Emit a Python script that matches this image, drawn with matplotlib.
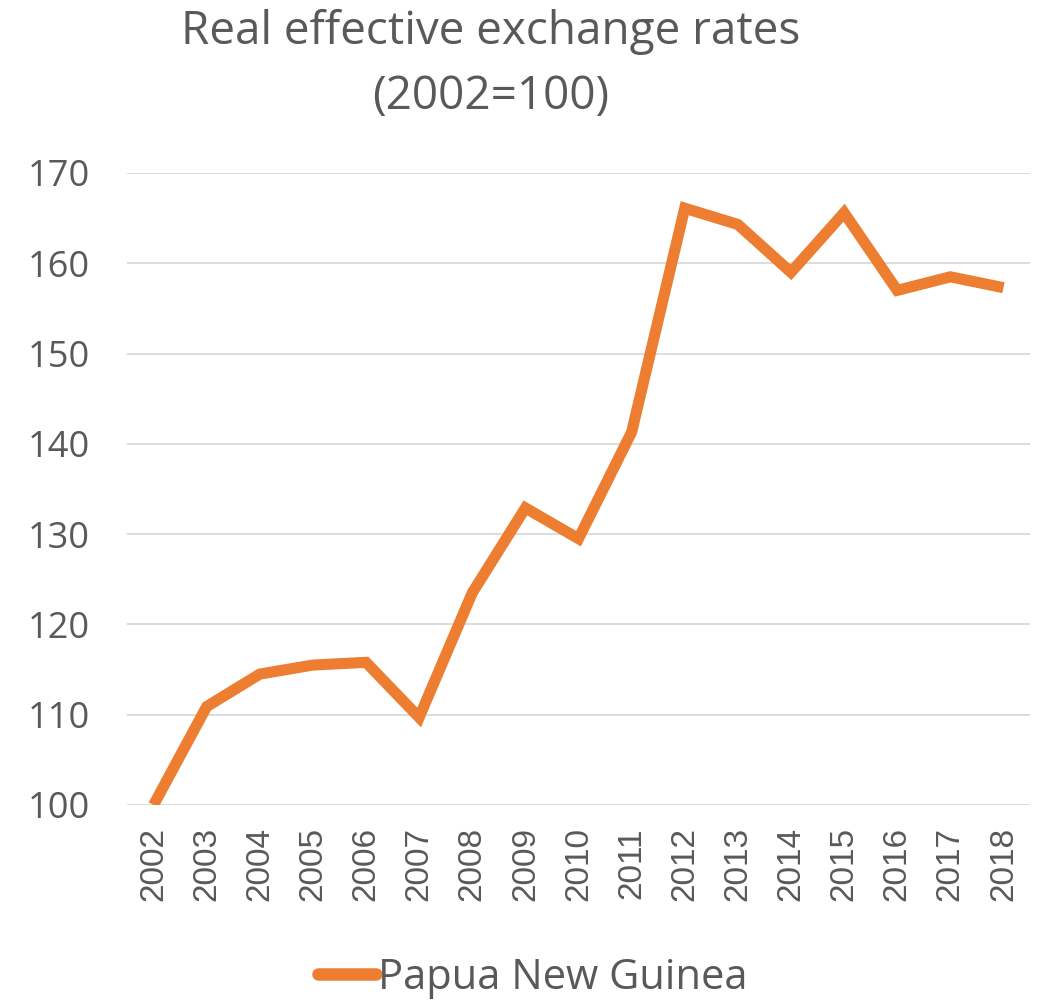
import matplotlib
matplotlib.use('Agg')
import matplotlib.pyplot as plt

# Data
years = ['2002', '2003', '2004', '2005', '2006', '2007', '2008', '2009', '2010',
         '2011', '2012', '2013', '2014', '2015', '2016', '2017', '2018']
png_reer = [100.0, 110.9, 114.5, 115.5, 115.8, 109.7, 123.5, 132.9, 129.5,
            141.3, 166.1, 164.3, 159.0, 165.6, 157.0, 158.5, 157.3]
y_ticks = [100, 110, 120, 130, 140, 150, 160, 170]

grey = '#595959'
orange = '#ED7D31'

W, H = 1038, 1001
fig = plt.figure(figsize=(W / 100, H / 100), dpi=100)
ax = fig.add_axes([127/W, 1 - 805/H, 903/W, 632/H])

x = list(range(len(years)))
ax.plot(x, png_reer, color=orange, linewidth=8, solid_capstyle='butt',
        solid_joinstyle='miter', label='Papua New Guinea')

ax.set_xlim(-0.5, len(years) - 0.5)
ax.set_ylim(100, 170)
ax.set_yticks(y_ticks)
ax.set_xticks(x)
ax.set_xticklabels(years, rotation=90)

ax.grid(axis='y', color='#D9D9D9', linewidth=1.3)
ax.set_axisbelow(True)
for s in ax.spines.values():
    s.set_visible(False)
ax.tick_params(length=0, labelcolor=grey)
ax.tick_params(axis='y', pad=27)
ax.tick_params(axis='x', pad=16)
for lab in ax.get_xticklabels():
    lab.set_family('Liberation Sans')
    lab.set_fontsize(24)
for lab in ax.get_yticklabels():
    lab.set_family('Open Sans')
    lab.set_fontsize(26)

# Title, two lines
fig.text(491/W, 1 - 32/H, 'Real effective exchange rates', ha='center',
         va='center', fontsize=33, color=grey, family='Open Sans')
fig.text(491/W, 1 - 97/H, '(2002=100)', ha='center', va='center',
         fontsize=33, color=grey, family='Open Sans')

leg = fig.legend(loc='center', bbox_to_anchor=(533/W, 1 - 978/H),
                 frameon=False, handlelength=1.4, handletextpad=0.05,
                 prop={'family': 'Open Sans', 'size': 30})
for t in leg.get_texts():
    t.set_color(grey)
for h in leg.get_lines():
    h.set_solid_capstyle('round')
    h.set_linewidth(9)

fig.savefig('out.png', dpi=100)
